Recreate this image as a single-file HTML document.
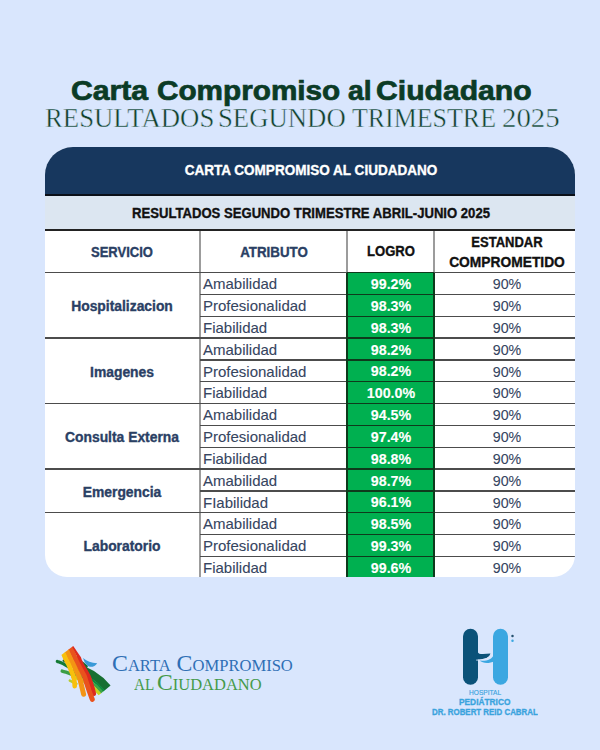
<!DOCTYPE html>
<html><head><meta charset="utf-8"><style>
html,body{margin:0;padding:0;}
body{width:600px;height:750px;background:#d9e6fd;position:relative;overflow:hidden;font-family:'Liberation Sans', sans-serif;}
</style></head><body>
<div style="position:absolute;left:71.38px;top:77.94px;font-family:'Liberation Sans', sans-serif;font-weight:bold;font-variant:normal;font-size:27px;line-height:27px;white-space:nowrap;color:#0b3b26;transform-origin:0 0;transform:scaleX(1.1174);-webkit-text-stroke:0.7px #0b3b26;">Carta</div><div style="position:absolute;left:156.90px;top:77.94px;font-family:'Liberation Sans', sans-serif;font-weight:bold;font-variant:normal;font-size:27px;line-height:27px;white-space:nowrap;color:#0b3b26;transform-origin:0 0;transform:scaleX(1.1006);-webkit-text-stroke:0.7px #0b3b26;">Compromiso</div><div style="position:absolute;left:347.50px;top:77.94px;font-family:'Liberation Sans', sans-serif;font-weight:bold;font-variant:normal;font-size:27px;line-height:27px;white-space:nowrap;color:#0b3b26;transform-origin:0 0;transform:scaleX(1.0476);-webkit-text-stroke:0.7px #0b3b26;">al</div><div style="position:absolute;left:376.38px;top:77.94px;font-family:'Liberation Sans', sans-serif;font-weight:bold;font-variant:normal;font-size:27px;line-height:27px;white-space:nowrap;color:#0b3b26;transform-origin:0 0;transform:scaleX(1.1159);-webkit-text-stroke:0.7px #0b3b26;">Ciudadano</div><div style="position:absolute;left:45.31px;top:105.39px;font-family:'Liberation Serif', serif;font-weight:normal;font-variant:normal;font-size:27px;line-height:27px;white-space:nowrap;color:#123f2b;transform-origin:0 0;transform:scaleX(0.9905);-webkit-text-stroke:0.45px #d9e6fd;">RESULTADOS</div><div style="position:absolute;left:218.32px;top:105.39px;font-family:'Liberation Serif', serif;font-weight:normal;font-variant:normal;font-size:27px;line-height:27px;white-space:nowrap;color:#123f2b;transform-origin:0 0;transform:scaleX(0.9897);-webkit-text-stroke:0.45px #d9e6fd;">SEGUNDO</div><div style="position:absolute;left:352.00px;top:105.39px;font-family:'Liberation Serif', serif;font-weight:normal;font-variant:normal;font-size:27px;line-height:27px;white-space:nowrap;color:#123f2b;transform-origin:0 0;transform:scaleX(0.9597);-webkit-text-stroke:0.45px #d9e6fd;">TRIMESTRE</div><div style="position:absolute;left:501.63px;top:105.39px;font-family:'Liberation Serif', serif;font-weight:normal;font-variant:normal;font-size:27px;line-height:27px;white-space:nowrap;color:#123f2b;transform-origin:0 0;transform:scaleX(1.0692);-webkit-text-stroke:0.45px #d9e6fd;">2025</div><div style="position:absolute;left:45.3px;top:146.5px;width:530.00px;height:430.70px;background:#fff;border-radius:28px 28px 22px 22px;overflow:hidden"><div style="position:absolute;left:0.00px;top:0.00px;width:530.00px;height:47.20px;background:#17375e;"></div><div style="position:absolute;left:0.00px;top:47.20px;width:530.00px;height:2.00px;background:#0a0f18;"></div><div style="position:absolute;left:0.00px;top:49.20px;width:530.00px;height:33.60px;background:#dce6f1;"></div><div style="position:absolute;left:0.00px;top:82.80px;width:530.00px;height:1.50px;background:#222;"></div><div style="position:absolute;left:301.70px;top:126.10px;width:87.00px;height:304.60px;background:#00b050;"></div><div style="position:absolute;left:153.70px;top:84.30px;width:2.00px;height:346.40px;background:#9c9c9c;"></div><div style="position:absolute;left:300.70px;top:84.30px;width:2.00px;height:41.80px;background:#9c9c9c;"></div><div style="position:absolute;left:387.70px;top:84.30px;width:2.00px;height:41.80px;background:#9c9c9c;"></div><div style="position:absolute;left:0.00px;top:125.45px;width:530.00px;height:1.30px;background:#4c4c4c;"></div><div style="position:absolute;left:301.70px;top:125.45px;width:87.00px;height:1.30px;background:#0e3a1c;"></div><div style="position:absolute;left:154.70px;top:147.28px;width:375.30px;height:1.30px;background:#4c4c4c;"></div><div style="position:absolute;left:301.70px;top:147.28px;width:87.00px;height:1.30px;background:#0e3a1c;"></div><div style="position:absolute;left:154.70px;top:169.11px;width:375.30px;height:1.30px;background:#4c4c4c;"></div><div style="position:absolute;left:301.70px;top:169.11px;width:87.00px;height:1.30px;background:#0e3a1c;"></div><div style="position:absolute;left:0.00px;top:190.94px;width:530.00px;height:1.30px;background:#4c4c4c;"></div><div style="position:absolute;left:301.70px;top:190.94px;width:87.00px;height:1.30px;background:#0e3a1c;"></div><div style="position:absolute;left:154.70px;top:212.77px;width:375.30px;height:1.30px;background:#4c4c4c;"></div><div style="position:absolute;left:301.70px;top:212.77px;width:87.00px;height:1.30px;background:#0e3a1c;"></div><div style="position:absolute;left:154.70px;top:234.60px;width:375.30px;height:1.30px;background:#4c4c4c;"></div><div style="position:absolute;left:301.70px;top:234.60px;width:87.00px;height:1.30px;background:#0e3a1c;"></div><div style="position:absolute;left:0.00px;top:256.43px;width:530.00px;height:1.30px;background:#4c4c4c;"></div><div style="position:absolute;left:301.70px;top:256.43px;width:87.00px;height:1.30px;background:#0e3a1c;"></div><div style="position:absolute;left:154.70px;top:278.26px;width:375.30px;height:1.30px;background:#4c4c4c;"></div><div style="position:absolute;left:301.70px;top:278.26px;width:87.00px;height:1.30px;background:#0e3a1c;"></div><div style="position:absolute;left:154.70px;top:300.09px;width:375.30px;height:1.30px;background:#4c4c4c;"></div><div style="position:absolute;left:301.70px;top:300.09px;width:87.00px;height:1.30px;background:#0e3a1c;"></div><div style="position:absolute;left:0.00px;top:321.92px;width:530.00px;height:1.30px;background:#4c4c4c;"></div><div style="position:absolute;left:301.70px;top:321.92px;width:87.00px;height:1.30px;background:#0e3a1c;"></div><div style="position:absolute;left:154.70px;top:343.75px;width:375.30px;height:1.30px;background:#4c4c4c;"></div><div style="position:absolute;left:301.70px;top:343.75px;width:87.00px;height:1.30px;background:#0e3a1c;"></div><div style="position:absolute;left:0.00px;top:365.58px;width:530.00px;height:1.30px;background:#4c4c4c;"></div><div style="position:absolute;left:301.70px;top:365.58px;width:87.00px;height:1.30px;background:#0e3a1c;"></div><div style="position:absolute;left:154.70px;top:387.41px;width:375.30px;height:1.30px;background:#4c4c4c;"></div><div style="position:absolute;left:301.70px;top:387.41px;width:87.00px;height:1.30px;background:#0e3a1c;"></div><div style="position:absolute;left:154.70px;top:409.24px;width:375.30px;height:1.30px;background:#4c4c4c;"></div><div style="position:absolute;left:301.70px;top:409.24px;width:87.00px;height:1.30px;background:#0e3a1c;"></div><div style="position:absolute;left:300.70px;top:126.10px;width:2.00px;height:304.60px;background:#0e3a1c;"></div><div style="position:absolute;left:387.70px;top:126.10px;width:2.00px;height:304.60px;background:#0e3a1c;"></div></div><div style="position:absolute;left:11.30px;width:600px;top:162.75px;text-align:center;font-family:'Liberation Sans', sans-serif;font-weight:bold;font-variant:normal;font-size:14px;line-height:14px;white-space:nowrap;color:#ffffff;transform-origin:50% 0;transform:scaleX(0.9670);-webkit-text-stroke:0.35px #ffffff;">CARTA COMPROMISO AL CIUDADANO</div><div style="position:absolute;left:11.30px;width:600px;top:205.75px;text-align:center;font-family:'Liberation Sans', sans-serif;font-weight:bold;font-variant:normal;font-size:14px;line-height:14px;white-space:nowrap;color:#111111;transform-origin:50% 0;transform:scaleX(0.9360);-webkit-text-stroke:0.35px #111111;">RESULTADOS SEGUNDO TRIMESTRE ABRIL-JUNIO 2025</div><div style="position:absolute;left:-178.20px;width:600px;top:244.75px;text-align:center;font-family:'Liberation Sans', sans-serif;font-weight:bold;font-variant:normal;font-size:14px;line-height:14px;white-space:nowrap;color:#2a4064;transform-origin:50% 0;transform:scaleX(0.9300);-webkit-text-stroke:0.35px #2a4064;">SERVICIO</div><div style="position:absolute;left:-26.50px;width:600px;top:244.95px;text-align:center;font-family:'Liberation Sans', sans-serif;font-weight:bold;font-variant:normal;font-size:14px;line-height:14px;white-space:nowrap;color:#2a4064;transform-origin:50% 0;transform:scaleX(0.9510);-webkit-text-stroke:0.35px #2a4064;">ATRIBUTO</div><div style="position:absolute;left:90.60px;width:600px;top:244.35px;text-align:center;font-family:'Liberation Sans', sans-serif;font-weight:bold;font-variant:normal;font-size:14px;line-height:14px;white-space:nowrap;color:#111111;transform-origin:50% 0;transform:scaleX(0.9360);-webkit-text-stroke:0.35px #111111;">LOGRO</div><div style="position:absolute;left:206.90px;width:600px;top:235.05px;text-align:center;font-family:'Liberation Sans', sans-serif;font-weight:bold;font-variant:normal;font-size:14px;line-height:14px;white-space:nowrap;color:#111111;transform-origin:50% 0;transform:scaleX(0.9300);-webkit-text-stroke:0.35px #111111;">ESTANDAR</div><div style="position:absolute;left:206.90px;width:600px;top:255.45px;text-align:center;font-family:'Liberation Sans', sans-serif;font-weight:bold;font-variant:normal;font-size:14px;line-height:14px;white-space:nowrap;color:#111111;transform-origin:50% 0;transform:scaleX(0.9850);-webkit-text-stroke:0.35px #111111;">COMPROMETIDO</div><div style="position:absolute;left:203.00px;top:276.30px;font-family:'Liberation Sans', sans-serif;font-weight:normal;font-variant:normal;font-size:15px;line-height:15px;white-space:nowrap;color:#36455f;transform-origin:0 0;-webkit-text-stroke:0.1px #36455f;">Amabilidad</div><div style="position:absolute;left:90.60px;width:600px;top:277.15px;text-align:center;font-family:'Liberation Sans', sans-serif;font-weight:bold;font-variant:normal;font-size:14px;line-height:14px;white-space:nowrap;color:#ffffff;transform-origin:50% 0;transform:scaleX(1.0200);-webkit-text-stroke:0.1px #ffffff;">99.2%</div><div style="position:absolute;left:206.60px;width:600px;top:276.30px;text-align:center;font-family:'Liberation Sans', sans-serif;font-weight:normal;font-variant:normal;font-size:15px;line-height:15px;white-space:nowrap;color:#36455f;transform-origin:50% 0;transform:scaleX(0.9500);-webkit-text-stroke:0.1px #36455f;">90%</div><div style="position:absolute;left:203.00px;top:298.13px;font-family:'Liberation Sans', sans-serif;font-weight:normal;font-variant:normal;font-size:15px;line-height:15px;white-space:nowrap;color:#36455f;transform-origin:0 0;-webkit-text-stroke:0.1px #36455f;">Profesionalidad</div><div style="position:absolute;left:90.60px;width:600px;top:298.98px;text-align:center;font-family:'Liberation Sans', sans-serif;font-weight:bold;font-variant:normal;font-size:14px;line-height:14px;white-space:nowrap;color:#ffffff;transform-origin:50% 0;transform:scaleX(1.0200);-webkit-text-stroke:0.1px #ffffff;">98.3%</div><div style="position:absolute;left:206.60px;width:600px;top:298.13px;text-align:center;font-family:'Liberation Sans', sans-serif;font-weight:normal;font-variant:normal;font-size:15px;line-height:15px;white-space:nowrap;color:#36455f;transform-origin:50% 0;transform:scaleX(0.9500);-webkit-text-stroke:0.1px #36455f;">90%</div><div style="position:absolute;left:203.00px;top:319.96px;font-family:'Liberation Sans', sans-serif;font-weight:normal;font-variant:normal;font-size:15px;line-height:15px;white-space:nowrap;color:#36455f;transform-origin:0 0;-webkit-text-stroke:0.1px #36455f;">Fiabilidad</div><div style="position:absolute;left:90.60px;width:600px;top:320.81px;text-align:center;font-family:'Liberation Sans', sans-serif;font-weight:bold;font-variant:normal;font-size:14px;line-height:14px;white-space:nowrap;color:#ffffff;transform-origin:50% 0;transform:scaleX(1.0200);-webkit-text-stroke:0.1px #ffffff;">98.3%</div><div style="position:absolute;left:206.60px;width:600px;top:319.96px;text-align:center;font-family:'Liberation Sans', sans-serif;font-weight:normal;font-variant:normal;font-size:15px;line-height:15px;white-space:nowrap;color:#36455f;transform-origin:50% 0;transform:scaleX(0.9500);-webkit-text-stroke:0.1px #36455f;">90%</div><div style="position:absolute;left:203.00px;top:341.79px;font-family:'Liberation Sans', sans-serif;font-weight:normal;font-variant:normal;font-size:15px;line-height:15px;white-space:nowrap;color:#36455f;transform-origin:0 0;-webkit-text-stroke:0.1px #36455f;">Amabilidad</div><div style="position:absolute;left:90.60px;width:600px;top:342.64px;text-align:center;font-family:'Liberation Sans', sans-serif;font-weight:bold;font-variant:normal;font-size:14px;line-height:14px;white-space:nowrap;color:#ffffff;transform-origin:50% 0;transform:scaleX(1.0200);-webkit-text-stroke:0.1px #ffffff;">98.2%</div><div style="position:absolute;left:206.60px;width:600px;top:341.79px;text-align:center;font-family:'Liberation Sans', sans-serif;font-weight:normal;font-variant:normal;font-size:15px;line-height:15px;white-space:nowrap;color:#36455f;transform-origin:50% 0;transform:scaleX(0.9500);-webkit-text-stroke:0.1px #36455f;">90%</div><div style="position:absolute;left:203.00px;top:363.62px;font-family:'Liberation Sans', sans-serif;font-weight:normal;font-variant:normal;font-size:15px;line-height:15px;white-space:nowrap;color:#36455f;transform-origin:0 0;-webkit-text-stroke:0.1px #36455f;">Profesionalidad</div><div style="position:absolute;left:90.60px;width:600px;top:364.47px;text-align:center;font-family:'Liberation Sans', sans-serif;font-weight:bold;font-variant:normal;font-size:14px;line-height:14px;white-space:nowrap;color:#ffffff;transform-origin:50% 0;transform:scaleX(1.0200);-webkit-text-stroke:0.1px #ffffff;">98.2%</div><div style="position:absolute;left:206.60px;width:600px;top:363.62px;text-align:center;font-family:'Liberation Sans', sans-serif;font-weight:normal;font-variant:normal;font-size:15px;line-height:15px;white-space:nowrap;color:#36455f;transform-origin:50% 0;transform:scaleX(0.9500);-webkit-text-stroke:0.1px #36455f;">90%</div><div style="position:absolute;left:203.00px;top:385.45px;font-family:'Liberation Sans', sans-serif;font-weight:normal;font-variant:normal;font-size:15px;line-height:15px;white-space:nowrap;color:#36455f;transform-origin:0 0;-webkit-text-stroke:0.1px #36455f;">Fiabilidad</div><div style="position:absolute;left:90.60px;width:600px;top:386.30px;text-align:center;font-family:'Liberation Sans', sans-serif;font-weight:bold;font-variant:normal;font-size:14px;line-height:14px;white-space:nowrap;color:#ffffff;transform-origin:50% 0;transform:scaleX(1.0200);-webkit-text-stroke:0.1px #ffffff;">100.0%</div><div style="position:absolute;left:206.60px;width:600px;top:385.45px;text-align:center;font-family:'Liberation Sans', sans-serif;font-weight:normal;font-variant:normal;font-size:15px;line-height:15px;white-space:nowrap;color:#36455f;transform-origin:50% 0;transform:scaleX(0.9500);-webkit-text-stroke:0.1px #36455f;">90%</div><div style="position:absolute;left:203.00px;top:407.28px;font-family:'Liberation Sans', sans-serif;font-weight:normal;font-variant:normal;font-size:15px;line-height:15px;white-space:nowrap;color:#36455f;transform-origin:0 0;-webkit-text-stroke:0.1px #36455f;">Amabilidad</div><div style="position:absolute;left:90.60px;width:600px;top:408.13px;text-align:center;font-family:'Liberation Sans', sans-serif;font-weight:bold;font-variant:normal;font-size:14px;line-height:14px;white-space:nowrap;color:#ffffff;transform-origin:50% 0;transform:scaleX(1.0200);-webkit-text-stroke:0.1px #ffffff;">94.5%</div><div style="position:absolute;left:206.60px;width:600px;top:407.28px;text-align:center;font-family:'Liberation Sans', sans-serif;font-weight:normal;font-variant:normal;font-size:15px;line-height:15px;white-space:nowrap;color:#36455f;transform-origin:50% 0;transform:scaleX(0.9500);-webkit-text-stroke:0.1px #36455f;">90%</div><div style="position:absolute;left:203.00px;top:429.11px;font-family:'Liberation Sans', sans-serif;font-weight:normal;font-variant:normal;font-size:15px;line-height:15px;white-space:nowrap;color:#36455f;transform-origin:0 0;-webkit-text-stroke:0.1px #36455f;">Profesionalidad</div><div style="position:absolute;left:90.60px;width:600px;top:429.96px;text-align:center;font-family:'Liberation Sans', sans-serif;font-weight:bold;font-variant:normal;font-size:14px;line-height:14px;white-space:nowrap;color:#ffffff;transform-origin:50% 0;transform:scaleX(1.0200);-webkit-text-stroke:0.1px #ffffff;">97.4%</div><div style="position:absolute;left:206.60px;width:600px;top:429.11px;text-align:center;font-family:'Liberation Sans', sans-serif;font-weight:normal;font-variant:normal;font-size:15px;line-height:15px;white-space:nowrap;color:#36455f;transform-origin:50% 0;transform:scaleX(0.9500);-webkit-text-stroke:0.1px #36455f;">90%</div><div style="position:absolute;left:203.00px;top:450.94px;font-family:'Liberation Sans', sans-serif;font-weight:normal;font-variant:normal;font-size:15px;line-height:15px;white-space:nowrap;color:#36455f;transform-origin:0 0;-webkit-text-stroke:0.1px #36455f;">Fiabilidad</div><div style="position:absolute;left:90.60px;width:600px;top:451.79px;text-align:center;font-family:'Liberation Sans', sans-serif;font-weight:bold;font-variant:normal;font-size:14px;line-height:14px;white-space:nowrap;color:#ffffff;transform-origin:50% 0;transform:scaleX(1.0200);-webkit-text-stroke:0.1px #ffffff;">98.8%</div><div style="position:absolute;left:206.60px;width:600px;top:450.94px;text-align:center;font-family:'Liberation Sans', sans-serif;font-weight:normal;font-variant:normal;font-size:15px;line-height:15px;white-space:nowrap;color:#36455f;transform-origin:50% 0;transform:scaleX(0.9500);-webkit-text-stroke:0.1px #36455f;">90%</div><div style="position:absolute;left:203.00px;top:472.77px;font-family:'Liberation Sans', sans-serif;font-weight:normal;font-variant:normal;font-size:15px;line-height:15px;white-space:nowrap;color:#36455f;transform-origin:0 0;-webkit-text-stroke:0.1px #36455f;">Amabilidad</div><div style="position:absolute;left:90.60px;width:600px;top:473.62px;text-align:center;font-family:'Liberation Sans', sans-serif;font-weight:bold;font-variant:normal;font-size:14px;line-height:14px;white-space:nowrap;color:#ffffff;transform-origin:50% 0;transform:scaleX(1.0200);-webkit-text-stroke:0.1px #ffffff;">98.7%</div><div style="position:absolute;left:206.60px;width:600px;top:472.77px;text-align:center;font-family:'Liberation Sans', sans-serif;font-weight:normal;font-variant:normal;font-size:15px;line-height:15px;white-space:nowrap;color:#36455f;transform-origin:50% 0;transform:scaleX(0.9500);-webkit-text-stroke:0.1px #36455f;">90%</div><div style="position:absolute;left:203.00px;top:494.60px;font-family:'Liberation Sans', sans-serif;font-weight:normal;font-variant:normal;font-size:15px;line-height:15px;white-space:nowrap;color:#36455f;transform-origin:0 0;-webkit-text-stroke:0.1px #36455f;">FIabilidad</div><div style="position:absolute;left:90.60px;width:600px;top:495.45px;text-align:center;font-family:'Liberation Sans', sans-serif;font-weight:bold;font-variant:normal;font-size:14px;line-height:14px;white-space:nowrap;color:#ffffff;transform-origin:50% 0;transform:scaleX(1.0200);-webkit-text-stroke:0.1px #ffffff;">96.1%</div><div style="position:absolute;left:206.60px;width:600px;top:494.60px;text-align:center;font-family:'Liberation Sans', sans-serif;font-weight:normal;font-variant:normal;font-size:15px;line-height:15px;white-space:nowrap;color:#36455f;transform-origin:50% 0;transform:scaleX(0.9500);-webkit-text-stroke:0.1px #36455f;">90%</div><div style="position:absolute;left:203.00px;top:516.43px;font-family:'Liberation Sans', sans-serif;font-weight:normal;font-variant:normal;font-size:15px;line-height:15px;white-space:nowrap;color:#36455f;transform-origin:0 0;-webkit-text-stroke:0.1px #36455f;">Amabilidad</div><div style="position:absolute;left:90.60px;width:600px;top:517.28px;text-align:center;font-family:'Liberation Sans', sans-serif;font-weight:bold;font-variant:normal;font-size:14px;line-height:14px;white-space:nowrap;color:#ffffff;transform-origin:50% 0;transform:scaleX(1.0200);-webkit-text-stroke:0.1px #ffffff;">98.5%</div><div style="position:absolute;left:206.60px;width:600px;top:516.43px;text-align:center;font-family:'Liberation Sans', sans-serif;font-weight:normal;font-variant:normal;font-size:15px;line-height:15px;white-space:nowrap;color:#36455f;transform-origin:50% 0;transform:scaleX(0.9500);-webkit-text-stroke:0.1px #36455f;">90%</div><div style="position:absolute;left:203.00px;top:538.26px;font-family:'Liberation Sans', sans-serif;font-weight:normal;font-variant:normal;font-size:15px;line-height:15px;white-space:nowrap;color:#36455f;transform-origin:0 0;-webkit-text-stroke:0.1px #36455f;">Profesionalidad</div><div style="position:absolute;left:90.60px;width:600px;top:539.11px;text-align:center;font-family:'Liberation Sans', sans-serif;font-weight:bold;font-variant:normal;font-size:14px;line-height:14px;white-space:nowrap;color:#ffffff;transform-origin:50% 0;transform:scaleX(1.0200);-webkit-text-stroke:0.1px #ffffff;">99.3%</div><div style="position:absolute;left:206.60px;width:600px;top:538.26px;text-align:center;font-family:'Liberation Sans', sans-serif;font-weight:normal;font-variant:normal;font-size:15px;line-height:15px;white-space:nowrap;color:#36455f;transform-origin:50% 0;transform:scaleX(0.9500);-webkit-text-stroke:0.1px #36455f;">90%</div><div style="position:absolute;left:203.00px;top:560.09px;font-family:'Liberation Sans', sans-serif;font-weight:normal;font-variant:normal;font-size:15px;line-height:15px;white-space:nowrap;color:#36455f;transform-origin:0 0;-webkit-text-stroke:0.1px #36455f;">Fiabilidad</div><div style="position:absolute;left:90.60px;width:600px;top:560.94px;text-align:center;font-family:'Liberation Sans', sans-serif;font-weight:bold;font-variant:normal;font-size:14px;line-height:14px;white-space:nowrap;color:#ffffff;transform-origin:50% 0;transform:scaleX(1.0200);-webkit-text-stroke:0.1px #ffffff;">99.6%</div><div style="position:absolute;left:206.60px;width:600px;top:560.09px;text-align:center;font-family:'Liberation Sans', sans-serif;font-weight:normal;font-variant:normal;font-size:15px;line-height:15px;white-space:nowrap;color:#36455f;transform-origin:50% 0;transform:scaleX(0.9500);-webkit-text-stroke:0.1px #36455f;">90%</div><div style="position:absolute;left:-177.80px;width:600px;top:299.29px;text-align:center;font-family:'Liberation Sans', sans-serif;font-weight:bold;font-variant:normal;font-size:14px;line-height:14px;white-space:nowrap;color:#2a4064;transform-origin:50% 0;transform:scaleX(0.9900);-webkit-text-stroke:0.35px #2a4064;">Hospitalizacion</div><div style="position:absolute;left:-177.80px;width:600px;top:364.78px;text-align:center;font-family:'Liberation Sans', sans-serif;font-weight:bold;font-variant:normal;font-size:14px;line-height:14px;white-space:nowrap;color:#2a4064;transform-origin:50% 0;transform:scaleX(0.9900);-webkit-text-stroke:0.35px #2a4064;">Imagenes</div><div style="position:absolute;left:-177.80px;width:600px;top:430.27px;text-align:center;font-family:'Liberation Sans', sans-serif;font-weight:bold;font-variant:normal;font-size:14px;line-height:14px;white-space:nowrap;color:#2a4064;transform-origin:50% 0;transform:scaleX(0.9900);-webkit-text-stroke:0.35px #2a4064;">Consulta Externa</div><div style="position:absolute;left:-177.80px;width:600px;top:484.85px;text-align:center;font-family:'Liberation Sans', sans-serif;font-weight:bold;font-variant:normal;font-size:14px;line-height:14px;white-space:nowrap;color:#2a4064;transform-origin:50% 0;transform:scaleX(0.9900);-webkit-text-stroke:0.35px #2a4064;">Emergencia</div><div style="position:absolute;left:-177.80px;width:600px;top:539.42px;text-align:center;font-family:'Liberation Sans', sans-serif;font-weight:bold;font-variant:normal;font-size:14px;line-height:14px;white-space:nowrap;color:#2a4064;transform-origin:50% 0;transform:scaleX(0.9900);-webkit-text-stroke:0.35px #2a4064;">Laboratorio</div><div style="position:absolute;left:111.86px;top:652.04px;font-family:'Liberation Serif', serif;font-weight:normal;font-variant:small-caps;font-size:23px;line-height:23px;white-space:nowrap;color:#2f6fb5;transform-origin:0 0;transform:scaleX(1.0353);">Carta Compromiso</div><div style="position:absolute;left:133.90px;top:670.54px;font-family:'Liberation Serif', serif;font-weight:normal;font-variant:small-caps;font-size:23px;line-height:23px;white-space:nowrap;color:#459a4a;transform-origin:0 0;transform:scaleX(0.9450);">al</div><div style="position:absolute;left:157.47px;top:670.54px;font-family:'Liberation Serif', serif;font-weight:normal;font-variant:small-caps;font-size:23px;line-height:23px;white-space:nowrap;color:#459a4a;transform-origin:0 0;transform:scaleX(1.0300);">Ciudadano</div><div style="position:absolute;left:468.60px;top:689.47px;font-family:'Liberation Sans', sans-serif;font-weight:normal;font-variant:normal;font-size:7px;line-height:7px;white-space:nowrap;color:#3aa3dd;transform-origin:0 0;transform:scaleX(0.9412);-webkit-text-stroke:0.15px #3aa3dd;">HOSPITAL</div><div style="position:absolute;left:459.00px;top:697.80px;font-family:'Liberation Sans', sans-serif;font-weight:bold;font-variant:normal;font-size:8.5px;line-height:8.5px;white-space:nowrap;color:#3aa3dd;transform-origin:0 0;transform:scaleX(0.9808);-webkit-text-stroke:0.3px #3aa3dd;">PEDIÁTRICO</div><div style="position:absolute;left:432.00px;top:707.80px;font-family:'Liberation Sans', sans-serif;font-weight:bold;font-variant:normal;font-size:8.5px;line-height:8.5px;white-space:nowrap;color:#3aa3dd;transform-origin:0 0;transform:scaleX(0.9298);-webkit-text-stroke:0.3px #3aa3dd;">DR. ROBERT REID CABRAL</div><svg style="position:absolute;left:0;top:0" width="600" height="750" viewBox="0 0 600 750">
<rect x="463" y="628.75" width="15" height="56" rx="7.5" fill="#0b5279"/>
<rect x="493" y="628.75" width="15" height="56" rx="7.5" fill="#3ba7e1"/>
<path d="M477.5 651.5 C478 653.8 480 654.1 483 654.1 L490.4 653.6 C489.6 657.6 484.5 659.8 476.4 659.6 Z" fill="#0b5279"/>
<path d="M494 654.2 C492 659.8 486.5 661.2 479.5 660.6 C483 663.6 489 663.8 494.5 661.2 Z" fill="#3ba7e1"/>
<path d="M476.2 660.1 C484.5 660.2 490 658 492.2 653.3" stroke="#d9e6fd" stroke-width="0.9" fill="none"/>
<circle cx="512.5" cy="636" r="1.25" fill="#24506e"/>
<circle cx="512.5" cy="640.8" r="1.25" fill="#3ba7e1"/>
</svg><svg style="position:absolute;left:0;top:0" width="600" height="750" viewBox="0 0 600 750">
<defs>
<clipPath id="rbclip"><polygon points="40,671 73.25,646 120,714.8 40,714.8"/></clipPath>
</defs>
<g stroke-linecap="round" fill="none">
<path d="M57.30 661.40 C58.25 661.77 60.88 662.53 63.00 663.60 C65.12 664.67 68.83 667.10 70.00 667.80" stroke="#157a35" stroke-width="3.2"/>
<path d="M63.6 660.6 L67.5 663" stroke="#0f5a25" stroke-width="2"/>
<path d="M62.20 671.10 C62.83 671.28 64.62 671.73 66.00 672.20 C67.38 672.67 69.75 673.62 70.50 673.90" stroke="#3b9e45" stroke-width="3.4"/>
<path d="M69.8 680.6 L76.5 683.8" stroke="#b8cc2c" stroke-width="2.5"/>
</g>
<g fill="none" stroke-linecap="butt">
<path d="M74.00 666.73 A63.25 63.25 0 0 1 107.57 687.95" stroke="#176f31" stroke-width="7.8"/>
<path d="M72.85 671.34 A58.50 58.50 0 0 1 103.90 690.97" stroke="#0c8a3c" stroke-width="2.4"/>
<path d="M72.28 673.62 A56.15 56.15 0 0 1 102.09 692.46" stroke="#3ea447" stroke-width="3.0"/>
<path d="M71.59 676.38 A53.30 53.30 0 0 1 99.89 694.27" stroke="#c5d31e" stroke-width="3.2"/>
</g>
<path d="M77.5 659.2 Q81 660 84 662.5 L88 666 L84 674 L77 670 Z" fill="#176f31"/>
<g clip-path="url(#rbclip)" fill="none" stroke-linecap="round" stroke-linejoin="round">
<path d="M73.00 645.00 C73.92 646.67 77.42 652.50 78.50 655.00 C79.58 657.50 78.92 658.33 79.50 660.00 C80.08 661.67 81.08 663.33 82.00 665.00 C82.92 666.67 83.95 668.17 85.00 670.00 C86.05 671.83 87.43 674.17 88.30 676.00 C89.17 677.83 89.45 678.83 90.20 681.00 C90.95 683.17 92.18 686.87 92.80 689.00 C93.42 691.13 93.72 693.00 93.90 693.80" stroke="#dd2a1e" stroke-width="4.4"/>
<path d="M68.50 645.00 C69.36 646.67 72.43 652.50 73.65 655.00 C74.87 657.50 75.03 658.33 75.80 660.00 C76.57 661.67 77.45 663.33 78.30 665.00 C79.15 666.67 79.90 668.17 80.90 670.00 C81.90 671.83 83.47 674.17 84.30 676.00 C85.13 677.83 85.08 678.50 85.90 681.00 C86.72 683.50 88.13 687.95 89.20 691.00 C90.27 694.05 91.78 697.92 92.30 699.30" stroke="#e9521d" stroke-width="5.0"/>
<path d="M64.00 645.00 C64.78 646.67 67.48 652.50 68.65 655.00 C69.82 657.50 70.19 658.33 71.00 660.00 C71.81 661.67 72.70 663.33 73.50 665.00 C74.30 666.67 74.92 668.17 75.80 670.00 C76.68 671.83 78.03 674.17 78.80 676.00 C79.57 677.83 79.77 678.67 80.40 681.00 C81.03 683.33 82.07 687.78 82.60 690.00 C83.13 692.22 83.43 693.58 83.60 694.30" stroke="#f39414" stroke-width="5.0"/>
<path d="M59.50 645.00 C60.25 646.67 62.88 652.50 64.00 655.00 C65.12 657.50 65.39 658.33 66.20 660.00 C67.01 661.67 68.07 663.33 68.85 665.00 C69.62 666.67 70.11 668.17 70.85 670.00 C71.59 671.83 72.71 674.17 73.30 676.00 C73.89 677.83 74.17 679.30 74.40 681.00 C74.63 682.70 74.65 685.33 74.70 686.20" stroke="#f8c00d" stroke-width="4.6"/>
</g>
<path d="M83 658 Q88.5 662.8 97.2 663.2 Q95 667 90 666.8 Q85.5 666 83 658 Z" fill="#3a9ad8"/>
</svg>
</body></html>
